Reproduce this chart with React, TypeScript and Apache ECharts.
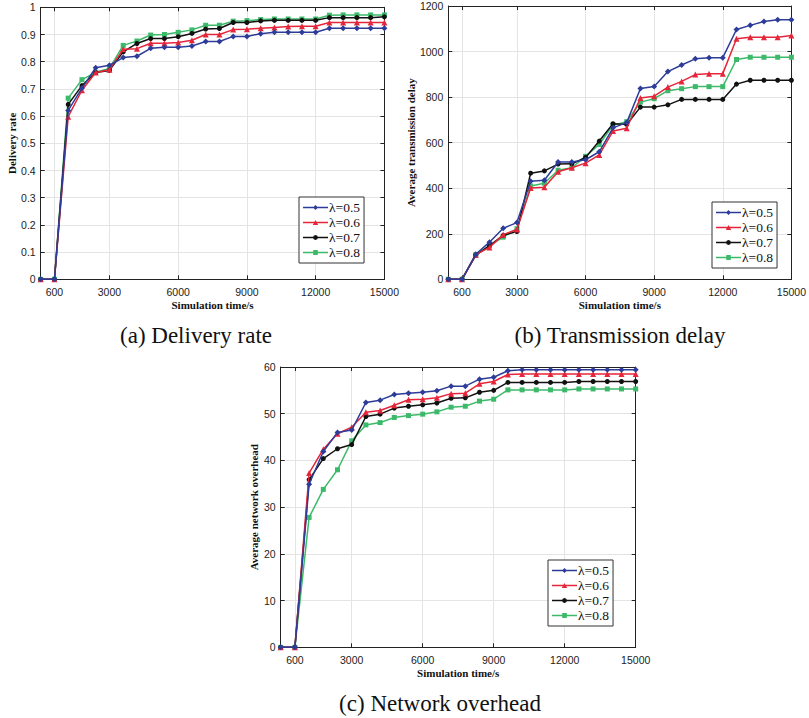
import React, { useEffect, useRef } from "react";
import * as echarts from "echarts";

// Simulation time points (s)
const times = [0, 600, 1200, 1800, 2400, 3000, 3600, 4200, 4800, 5400, 6000, 6600, 7200, 7800, 8400, 9000, 9600, 10200, 10800, 11400, 12000, 12600, 13200, 13800, 14400, 15000];
const xTicks = [600, 3000, 6000, 9000, 12000, 15000];
const seriesNames = ["λ=0.5", "λ=0.6", "λ=0.7", "λ=0.8"];

// (a) Delivery rate
const deliveryL05 = [0, 0, 0.621, 0.703, 0.778, 0.787, 0.815, 0.82, 0.849, 0.853, 0.853, 0.858, 0.874, 0.874, 0.893, 0.893, 0.903, 0.908, 0.908, 0.908, 0.908, 0.923, 0.923, 0.923, 0.923, 0.923];
const deliveryL06 = [0, 0, 0.598, 0.695, 0.76, 0.77, 0.846, 0.848, 0.868, 0.868, 0.871, 0.879, 0.9, 0.9, 0.918, 0.919, 0.923, 0.926, 0.929, 0.93, 0.93, 0.944, 0.944, 0.944, 0.944, 0.944];
const deliveryL07 = [0, 0, 0.643, 0.712, 0.76, 0.768, 0.836, 0.867, 0.885, 0.885, 0.892, 0.904, 0.92, 0.922, 0.944, 0.944, 0.95, 0.952, 0.952, 0.952, 0.952, 0.962, 0.962, 0.962, 0.962, 0.965];
const deliveryL08 = [0, 0, 0.666, 0.734, 0.761, 0.775, 0.86, 0.876, 0.898, 0.9, 0.908, 0.917, 0.934, 0.934, 0.949, 0.951, 0.955, 0.957, 0.957, 0.957, 0.957, 0.971, 0.972, 0.972, 0.972, 0.972];

// (b) Average transmission delay
const delayL05 = [0, 0, 110, 163, 224, 249, 431, 435, 515, 515, 525, 560, 665, 688, 838, 847, 912, 941, 968, 973, 973, 1097, 1115, 1132, 1140, 1140];
const delayL06 = [0, 0, 108, 140, 196, 219, 401, 404, 472, 490, 510, 546, 651, 663, 796, 804, 844, 869, 899, 903, 903, 1056, 1063, 1063, 1063, 1070];
const delayL07 = [0, 0, 105, 148, 193, 210, 466, 476, 506, 507, 535, 607, 683, 680, 756, 756, 766, 790, 790, 790, 790, 857, 874, 874, 874, 874];
const delayL08 = [0, 0, 108, 148, 185, 222, 410, 422, 479, 490, 540, 592, 677, 692, 778, 793, 828, 837, 846, 846, 846, 965, 975, 975, 975, 975];

// (c) Average network overhead
const overheadL05 = [0, 0, 34.9, 41.9, 46.0, 46.5, 52.4, 52.9, 54.1, 54.4, 54.6, 54.9, 55.9, 55.9, 57.4, 57.8, 59.2, 59.4, 59.4, 59.4, 59.4, 59.4, 59.4, 59.4, 59.4, 59.4];
const overheadL06 = [0, 0, 37.3, 42.4, 45.7, 47.1, 50.3, 50.7, 51.8, 53.0, 53.1, 53.4, 54.3, 54.4, 56.4, 56.9, 58.4, 58.5, 58.5, 58.5, 58.5, 58.5, 58.5, 58.5, 58.5, 58.5];
const overheadL07 = [0, 0, 35.9, 40.4, 42.5, 43.4, 49.4, 49.9, 51.2, 51.6, 51.9, 52.3, 53.3, 53.4, 54.6, 55.0, 56.7, 56.7, 56.7, 56.7, 56.7, 56.9, 56.9, 56.9, 56.9, 56.9];
const overheadL08 = [0, 0, 27.8, 33.8, 38.0, 44.2, 47.6, 48.1, 49.2, 49.6, 49.9, 50.4, 51.4, 51.6, 52.7, 53.1, 55.1, 55.1, 55.1, 55.1, 55.1, 55.3, 55.3, 55.3, 55.3, 55.3];

const colors = ["#2d3c98", "#e5263a", "#111111", "#3cba6a"];
const symbols = ["diamond", "triangle", "circle", "rect"];
const symbolSizes = [6, 6, 5, 5];

// legend icons: a short line with a small marker in the middle (25 x 5 box)
const legendLine = "M0 1.8 H25 V3.2 H0 Z ";
const legendIcons = [
  "path://" + legendLine + "M12.5 0 L15 2.5 L12.5 5 L10 2.5 Z",
  "path://" + legendLine + "M12.5 0 L15.2 5 L9.8 5 Z",
  "path://" + legendLine + "M12.5 0 L14.3 0.7 L15 2.5 L14.3 4.3 L12.5 5 L10.7 4.3 L10 2.5 L10.7 0.7 Z",
  "path://" + legendLine + "M10.2 0 H14.8 V5 H10.2 Z",
];

const panels = [
  {
    data: [deliveryL05, deliveryL06, deliveryL07, deliveryL08],
    yMax: 1, yInterval: 0.1, yName: "Delivery rate", caption: "(a) Delivery rate",
    grid: { left: 40.7, top: 7.3, width: 343.7, height: 272 }, yNameGap: 23,
    legend: { left: 299, top: 197 }, captionPos: [196, 335],
  },
  {
    data: [delayL05, delayL06, delayL07, delayL08],
    yMax: 1200, yInterval: 200, yName: "Average transmission delay", caption: "(b) Transmission delay",
    grid: { left: 448.3, top: 6, width: 346, height: 273.3 }, yNameGap: 29,
    legend: { left: 712, top: 202 }, captionPos: [620, 335],
  },
  {
    data: [overheadL05, overheadL06, overheadL07, overheadL08],
    yMax: 60, yInterval: 10, yName: "Average network overhead", caption: "(c) Network overhead",
    grid: { left: 280.7, top: 367, width: 355, height: 280.3 }, yNameGap: 21,
    legend: { left: 548, top: 560 }, captionPos: [440, 703],
  },
];

const tickFont = { fontFamily: "Liberation Sans", fontSize: 10.5, color: "#222" };
const nameFont = { fontFamily: "Liberation Serif", fontSize: 11, fontWeight: "bold" as const, color: "#111" };
const axisLineStyle = { lineStyle: { color: "#222", width: 1 } };
const gridLineStyle = { show: true, lineStyle: { color: "#e4e4e4", width: 1 } };
const plainNum = (v: number) => String(Math.round(v * 1000) / 1000);

export default function App() {
  const ref = useRef<HTMLDivElement>(null);
  useEffect(() => {
    if (!ref.current) return;
    const chart = echarts.init(ref.current, undefined, { renderer: "svg" });
    const grids: any[] = [];
    const xAxes: any[] = [];
    const yAxes: any[] = [];
    const series: any[] = [];
    const legends: any[] = [];
    const graphics: any[] = [];
    panels.forEach((p, g) => {
      grids.push({ ...p.grid, containLabel: false });
      xAxes.push({
        type: "value", gridIndex: g, min: 0, max: 15000, position: "bottom",
        axisLine: { show: true, ...axisLineStyle },
        axisTick: { show: true, inside: true, length: 4, customValues: xTicks, lineStyle: { color: "#222" } },
        axisLabel: { show: true, customValues: xTicks, margin: 7, formatter: plainNum, ...tickFont },
        splitLine: gridLineStyle,
        name: "Simulation time/s", nameLocation: "middle", nameGap: 20, nameTextStyle: nameFont,
      });
      xAxes.push({
        type: "value", gridIndex: g, min: 0, max: 15000, position: "top",
        axisLine: { show: true, onZero: false, ...axisLineStyle },
        axisTick: { show: true, inside: true, length: 4, customValues: xTicks, lineStyle: { color: "#222" } },
        axisLabel: { show: false },
        splitLine: { show: false },
      });
      yAxes.push({
        type: "value", gridIndex: g, min: 0, max: p.yMax, interval: p.yInterval, position: "left",
        axisLine: { show: true, onZero: false, ...axisLineStyle },
        axisTick: { show: true, inside: true, length: 4, lineStyle: { color: "#222" } },
        axisLabel: { show: true, margin: 5, formatter: plainNum, ...tickFont },
        splitLine: gridLineStyle,
        name: p.yName, nameLocation: "middle", nameGap: p.yNameGap, nameTextStyle: nameFont,
      });
      yAxes.push({
        type: "value", gridIndex: g, min: 0, max: p.yMax, interval: p.yInterval, position: "right",
        axisLine: { show: true, onZero: false, ...axisLineStyle },
        axisTick: { show: true, inside: true, length: 4, lineStyle: { color: "#222" } },
        axisLabel: { show: false },
        splitLine: { show: false },
      });
      p.data.forEach((vals, i) => {
        series.push({
          type: "line", name: seriesNames[i], xAxisIndex: g * 2, yAxisIndex: g * 2,
          data: times.map((t, k) => [t, vals[k]]),
          symbol: symbols[i], symbolSize: symbolSizes[i], showAllSymbol: true,
          lineStyle: { color: colors[i], width: 1.5 },
          itemStyle: { color: colors[i] },
          z: 10 - i,
        });
      });
      legends.push({
        ...p.legend, orient: "vertical",
        data: seriesNames.map((n, i) => ({ name: n, icon: legendIcons[i], itemStyle: { color: colors[i], borderWidth: 0 } })),
        backgroundColor: "#fff", borderColor: "#333", borderWidth: 1,
        padding: [3, 4, 3, 4], itemGap: 0, itemWidth: 25, itemHeight: 5,
        textStyle: { fontFamily: "Liberation Serif", fontSize: 13.5, lineHeight: 15, color: "#111", padding: [0, 0, 0, -4] },
        selectedMode: false,
      });
      graphics.push({
        type: "text", x: p.captionPos[0], y: p.captionPos[1],
        style: { text: p.caption, fontFamily: "Liberation Serif", fontSize: 23, fill: "#111", textAlign: "center", textVerticalAlign: "middle" },
      });
    });
    chart.setOption({
      animation: false,
      backgroundColor: "#fff",
      grid: grids, xAxis: xAxes, yAxis: yAxes, series, legend: legends, graphic: graphics,
    });
    return () => chart.dispose();
  }, []);
  return <div ref={ref} style={{ position: "absolute", left: 0, top: 0, width: 809, height: 718 }} />;
}
